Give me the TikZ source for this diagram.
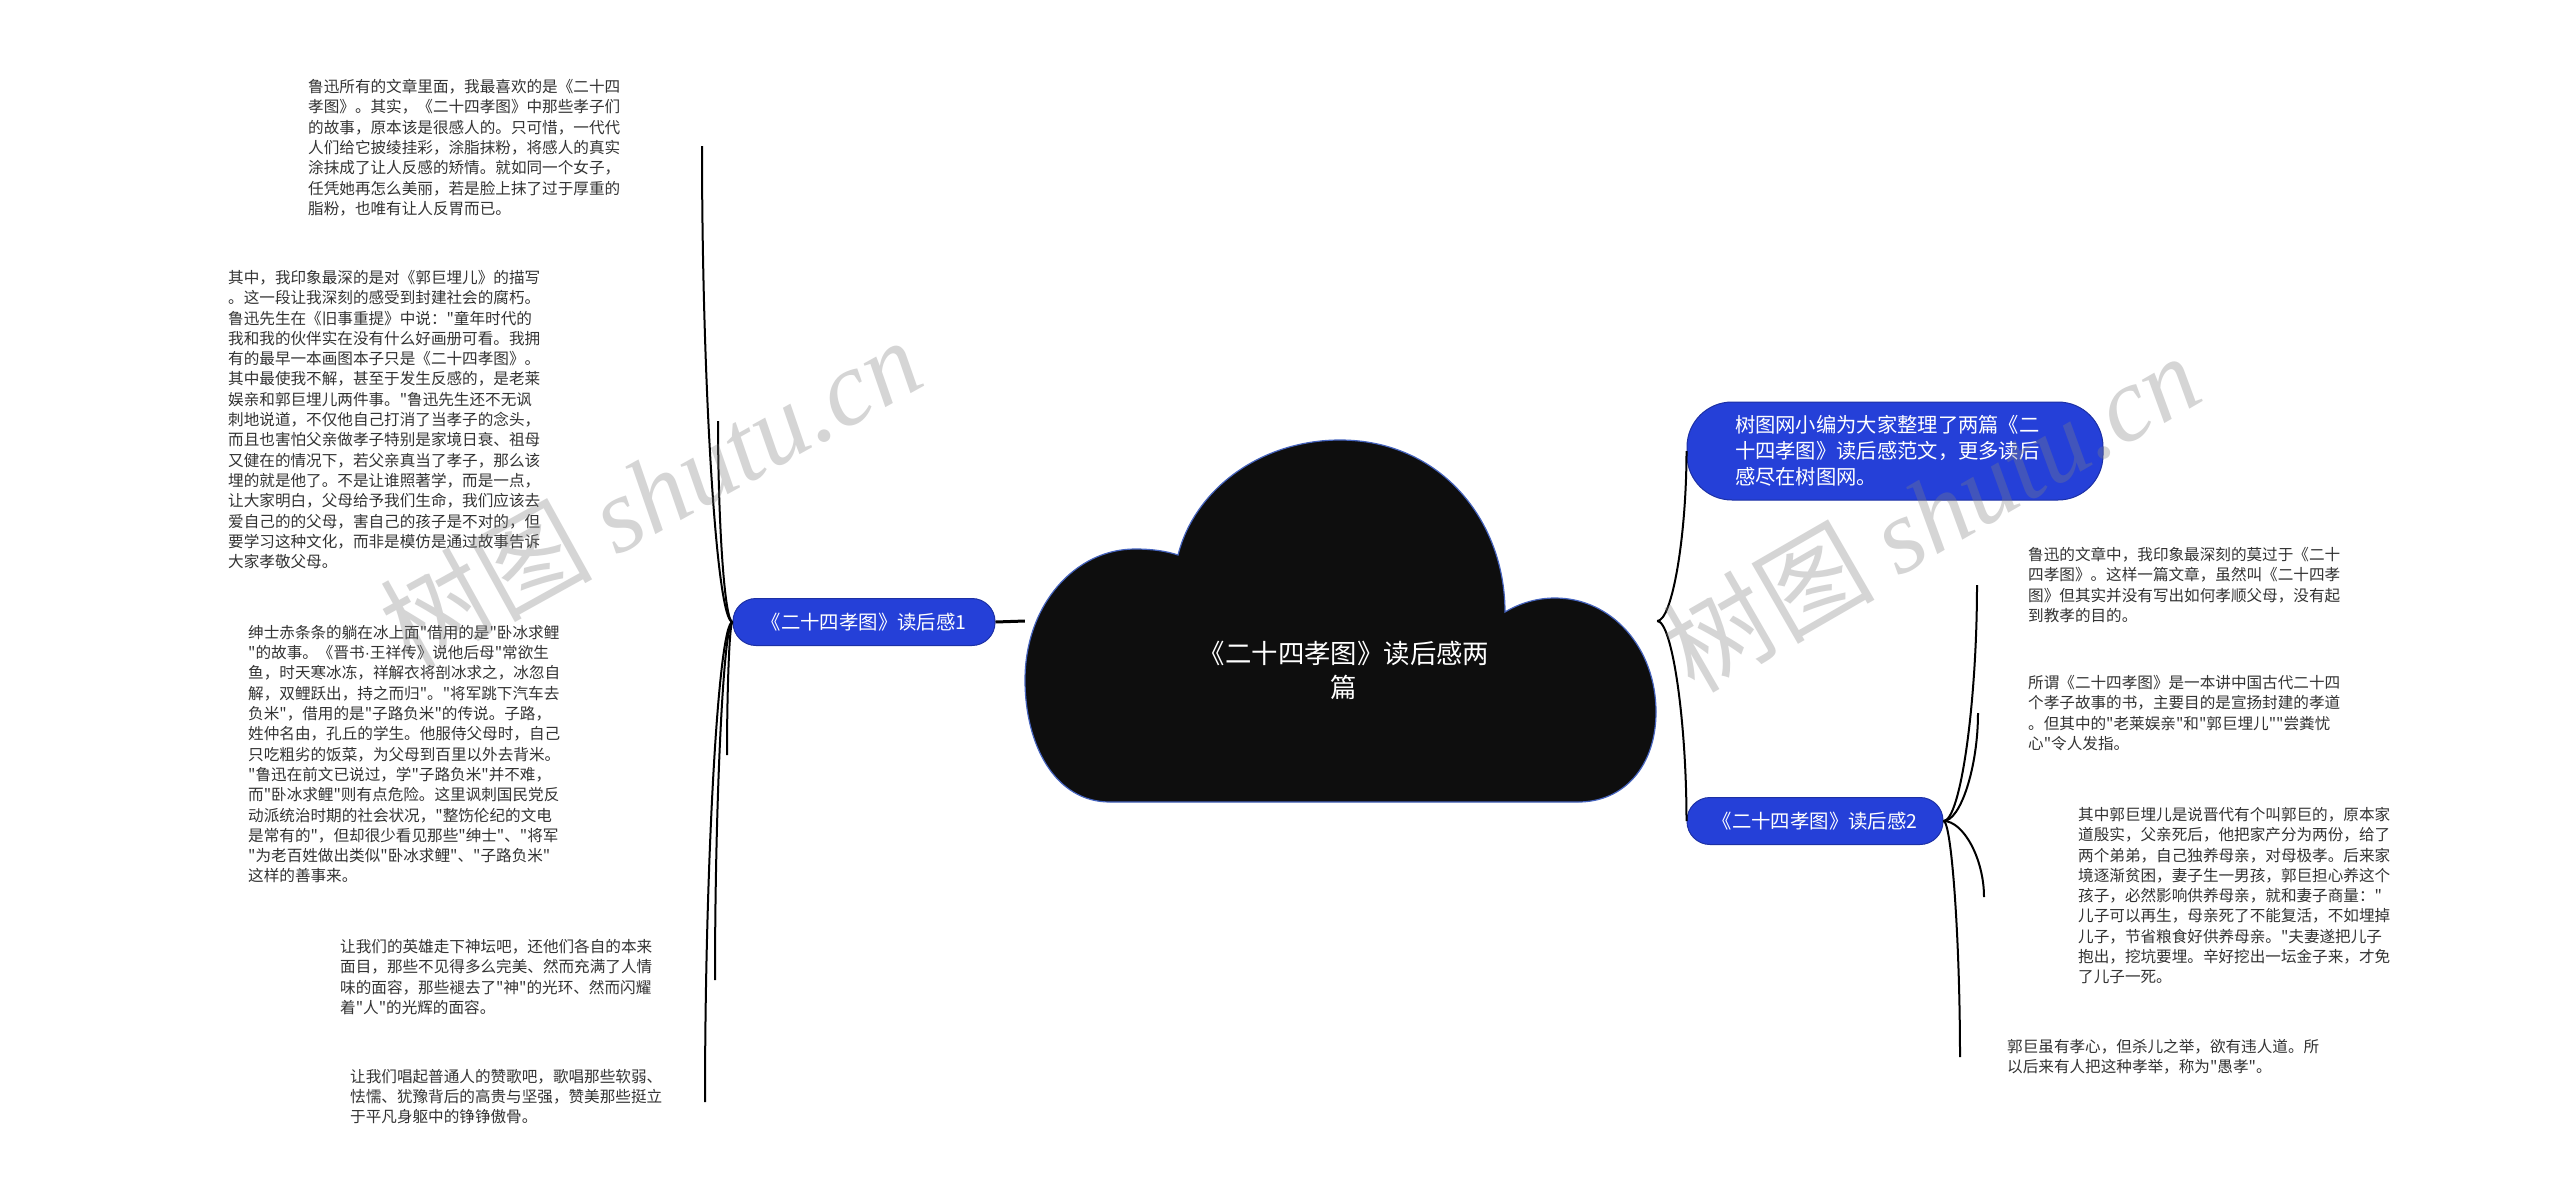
\documentclass[tikz,border=0pt]{standalone}
\usepackage{fontspec}
\newfontfamily\cjkfont{Noto Sans CJK SC}
\newfontfamily\latinfont{Liberation Sans}
\newfontfamily\wmlatin{Liberation Serif}
\definecolor{topicblue}{RGB}{37,64,216}
\definecolor{topicedge}{RGB}{28,48,165}
\definecolor{cloudblack}{RGB}{14,14,14}
\definecolor{cloudedge}{RGB}{70,100,190}
\definecolor{leafgray}{RGB}{51,51,51}

\begin{document}
\begin{tikzpicture}[x=1pt, y=-1pt,
    topic/.style={rectangle, rounded corners=23pt, draw=topicedge, line width=1pt, fill=topicblue, text=white, minimum height=47pt, inner xsep=10pt, font=\cjkfont\fontsize{19.4}{24}\selectfont},
    leaf/.style={anchor=north west, align=left, inner sep=0pt, text=leafgray, font=\cjkfont\fontsize{15.6}{20.3}\selectfont},
    link/.style={draw=black, line width=2pt},
    wmark/.style={text=black!50, opacity=0.33, font=\cjkfont\fontsize{106}{106}\selectfont}
  ]
  \fill[white] (0,0) rectangle (2560,1203);
  \useasboundingbox (0,0) rectangle (2560,1203);

  % central cloud
  \node[minimum width=632pt, minimum height=362pt, inner sep=0pt] (root) at (1341,621) {};
  \fill[cloudblack, draw=cloudedge, line width=1.2pt] (1110,802)
    .. controls (1055,802) and (1025,745) .. (1025,680)
    .. controls (1025,605) and (1075,549) .. (1135,549)
    .. controls (1152,549) and (1166,551) .. (1178,555)
    .. controls (1195,488) and (1262,440) .. (1340,440)
    .. controls (1440,440) and (1505,520) .. (1505,612)
    .. controls (1520,603) and (1537,598) .. (1555,598)
    .. controls (1612,598) and (1656,648) .. (1656,712)
    .. controls (1656,765) and (1625,802) .. (1578,802)
    -- cycle;
  \node[text=white, align=center, font=\cjkfont\fontsize{26.4}{34}\selectfont] (roottext) at (1344,670) {《二十四孝图》读后感两\\篇};

  % main topics
  \node[topic, minimum width=262pt] (b1) at (864,622) {《二十四孝图》读后感1};
  \node[topic, minimum width=256pt] (b2) at (1815,821) {《二十四孝图》读后感2};
  \node[topic, rounded corners=45pt, minimum height=98pt, align=left, text width=320pt, inner xsep=48pt, font=\cjkfont\fontsize{20.3}{26}\selectfont] (b0) at (1895,451) {树图网小编为大家整理了两篇《二\\十四孝图》读后感范文，更多读后\\感尽在树图网。};

  % left leaves
  \node[leaf] (t1) at (308,79) {鲁迅所有的文章里面，我最喜欢的是《二十四\\孝图》。其实，《二十四孝图》中那些孝子们\\的故事，原本该是很感人的。只可惜，一代代\\人们给它披绫挂彩，涂脂抹粉，将感人的真实\\涂抹成了让人反感的矫情。就如同一个女子，\\任凭她再怎么美丽，若是脸上抹了过于厚重的\\脂粉，也唯有让人反胃而已。};
  \node[leaf] (t2) at (228,270) {其中，我印象最深的是对《郭巨埋儿》的描写\\。这一段让我深刻的感受到封建社会的腐朽。\\鲁迅先生在《旧事重提》中说："童年时代的\\我和我的伙伴实在没有什么好画册可看。我拥\\有的最早一本画图本子只是《二十四孝图》。\\其中最使我不解，甚至于发生反感的，是老莱\\娱亲和郭巨埋儿两件事。"鲁迅先生还不无讽\\刺地说道，不仅他自己打消了当孝子的念头，\\而且也害怕父亲做孝子特别是家境日衰、祖母\\又健在的情况下，若父亲真当了孝子，那么该\\埋的就是他了。不是让谁照著学，而是一点，\\让大家明白，父母给予我们生命，我们应该去\\爱自己的的父母，害自己的孩子是不对的，但\\要学习这种文化，而非是模仿是通过故事告诉\\大家孝敬父母。};
  \node[leaf] (t3) at (248,625) {绅士赤条条的躺在冰上面"借用的是"卧冰求鲤\\"的故事。《晋书{\latinfont ·}王祥传》说他后母"常欲生\\鱼，时天寒冰冻，祥解衣将剖冰求之，冰忽自\\解，双鲤跃出，持之而归"。"将军跳下汽车去\\负米"，借用的是"子路负米"的传说。子路，\\姓仲名由，孔丘的学生。他服侍父母时，自己\\只吃粗劣的饭菜，为父母到百里以外去背米。\\"鲁迅在前文已说过，学"子路负米"并不难，\\而"卧冰求鲤"则有点危险。这里讽刺国民党反\\动派统治时期的社会状况，"整饬伦纪的文电\\是常有的"，但却很少看见那些"绅士"、"将军\\"为老百姓做出类似"卧冰求鲤"、"子路负米"\\这样的善事来。};
  \node[leaf] (t4) at (340,939) {让我们的英雄走下神坛吧，还他们各自的本来\\面目，那些不见得多么完美、然而充满了人情\\味的面容，那些褪去了"神"的光环、然而闪耀\\着"人"的光辉的面容。};
  \node[leaf] (t5) at (350,1069) {让我们唱起普通人的赞歌吧，歌唱那些软弱、\\怯懦、犹豫背后的高贵与坚强，赞美那些挺立\\于平凡身躯中的铮铮傲骨。};

  % right leaves
  \node[leaf] (r1) at (2028,547) {鲁迅的文章中，我印象最深刻的莫过于《二十\\四孝图》。这样一篇文章，虽然叫《二十四孝\\图》但其实并没有写出如何孝顺父母，没有起\\到教孝的目的。};
  \node[leaf] (r2) at (2028,675) {所谓《二十四孝图》是一本讲中国古代二十四\\个孝子故事的书，主要目的是宣扬封建的孝道\\。但其中的"老莱娱亲"和"郭巨埋儿""尝粪忧\\心"令人发指。};
  \node[leaf] (r3) at (2078,807) {其中郭巨埋儿是说晋代有个叫郭巨的，原本家\\道殷实，父亲死后，他把家产分为两份，给了\\两个弟弟，自己独养母亲，对母极孝。后来家\\境逐渐贫困，妻子生一男孩，郭巨担心养这个\\孩子，必然影响供养母亲，就和妻子商量："\\儿子可以再生，母亲死了不能复活，不如埋掉\\儿子，节省粮食好供养母亲。"夫妻遂把儿子\\抱出，挖坑要埋。辛好挖出一坛金子来，才免\\了儿子一死。};
  \node[leaf] (r4) at (2007,1039) {郭巨虽有孝心，但杀儿之举，欲有违人道。所\\以后来有人把这种孝举，称为"愚孝"。};

  % leaf ends of the connectors
  \coordinate (e1) at (702,146);
  \coordinate (e2) at (718,421);
  \coordinate (e3) at (727,755);
  \coordinate (e4) at (715,980);
  \coordinate (e5) at (705,1102);
  \coordinate (f1) at (1977,585);
  \coordinate (f2) at (1978,713);
  \coordinate (f3) at (1984,897);
  \coordinate (f4) at (1960,1057);

  % connectors
  \draw[link, line width=3pt] (root.west) -- (b1.east);
  \draw[link] (root.east) .. controls +(15,0) and +(0,85) .. (b0.west);
  \draw[link] (root.east) .. controls +(15,0) and +(0,-100) .. (b2.west);
  \draw[link] (b1.west) .. controls +(-16,0) and +(0,238) .. (e1);
  \draw[link] (b1.west) .. controls +(-8,0) and +(0,100) .. (e2);
  \draw[link] (b1.west) .. controls +(-3,0) and +(0,-66) .. (e3);
  \draw[link] (b1.west) .. controls +(-9,0) and +(0,-179) .. (e4);
  \draw[link] (b1.west) .. controls +(-14,0) and +(0,-240) .. (e5);
  \draw[link] (b2.east) .. controls +(17,0) and +(0,118) .. (f1);
  \draw[link] (b2.east) .. controls +(17,0) and +(0,54) .. (f2);
  \draw[link] (b2.east) .. controls +(20,0) and +(0,-38) .. (f3);
  \draw[link] (b2.east) .. controls +(8,0) and +(0,-118) .. (f4);

  % watermarks
  \node[wmark, rotate=29] (wm1) at (650,492) {树图 {\wmlatin\itshape shutu.cn}};
  \node[wmark, rotate=30] (wm2) at (1931,512) {树图 {\wmlatin\itshape shutu.cn}};
\end{tikzpicture}
\end{document}
